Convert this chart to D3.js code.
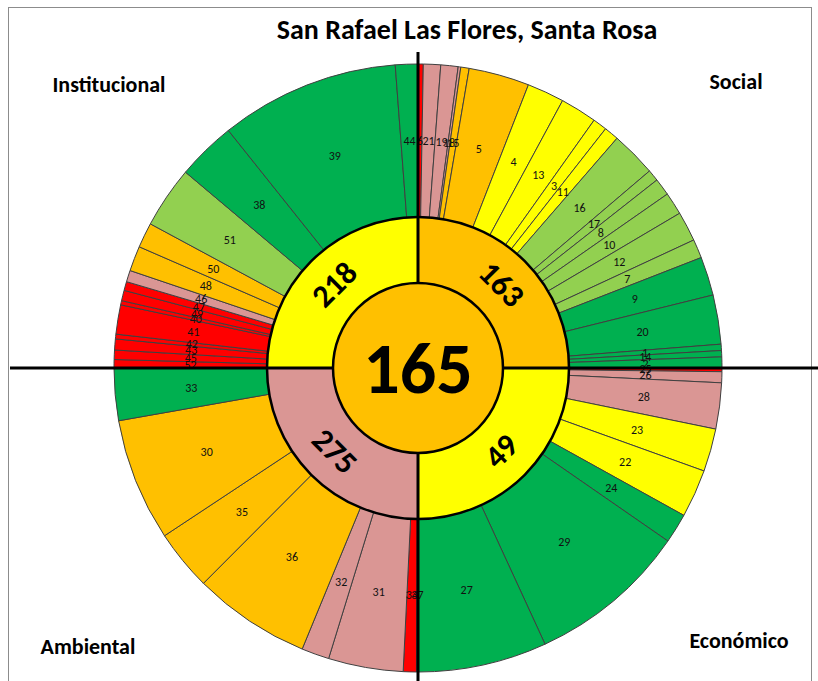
<!DOCTYPE html>
<html>
<head>
<meta charset="utf-8">
<script src="https://cdn.jsdelivr.net/npm/d3@7"></script>
<style>
  body { margin: 0; background: #fff; }
  svg { display: block; font-family: Carlito, Lato, "Liberation Sans", sans-serif; }
  .slice { stroke: #404040; stroke-width: 1; }
  .slice-label { font-size: 12px; fill: #111; text-anchor: middle; dominant-baseline: central; }
  .ring-label { font-size: 32px; font-weight: bold; text-anchor: middle; dominant-baseline: central; }
  .dim-title { font-size: 22px; font-weight: bold; text-anchor: middle; }
</style>
</head>
<body>
<div id="chart"></div>
<script>
/*
SUNBURST: PUNTAJE POR DIMENSION E INDICADOR
*/

const chartTitle = "San Rafael Las Flores, Santa Rosa";
const centerScore = 165;

// order is clockwise from 12 o'clock
const dimensions = ["Social", "Económico", "Ambiental", "Institucional"];
const dimensionScores = [163, 49, 275, 218];
const dimensionLevels = ["naranja", "amarillo", "rosa", "amarillo"];

// indicators per dimension: id, angular share (out of 90), level
const socialIds = ["6", "21", "19", "18", "15", "5", "4", "13", "3", "11", "16", "17", "8", "10", "12", "7", "9", "20", "1", "14", "2"];
const socialShares = [1.0, 3.3, 3.3, 0.5, 1.6, 11.6, 7.1, 7.0, 2.7, 2.8, 8.7, 2.2, 3.3, 4.3, 5.7, 3.6, 7.4, 9.4, 1.2, 1.2, 2.1];
const socialLevels = ["rojo", "rosa", "rosa", "rosa", "naranja", "naranja", "amarillo", "amarillo", "amarillo", "amarillo",
  "verdeClaro", "verdeClaro", "verdeClaro", "verdeClaro", "verdeClaro", "verdeClaro", "verde", "verde", "verde", "verde", "verde"];

const economicoIds = ["25", "26", "28", "23", "22", "24", "29", "27"];
const economicoShares = [0.7, 2.1, 8.8, 8.2, 9.2, 5.7, 30.6, 24.7];
const economicoLevels = ["rojo", "rosa", "rosa", "amarillo", "amarillo", "verde", "verde", "verde"];

const ambientalIds = ["37", "34", "31", "32", "36", "35", "30", "33"];
const ambientalShares = [0.3, 2.5, 14.3, 5.3, 22.5, 11.6, 23.5, 10.0];
const ambientalLevels = ["rojo", "rojo", "rosa", "rosa", "naranja", "naranja", "naranja", "verde"];

const institucionalIds = ["52", "45", "43", "42", "41", "40", "49", "47", "46", "48", "50", "51", "38", "39", "44"];
const institucionalShares = [1.6, 1.8, 2.1, 0.9, 5.6, 0.8, 2.0, 1.7, 2.2, 4.8, 4.8, 11.8, 11.3, 34.3, 4.3];
const institucionalLevels = ["rojo", "rojo", "rojo", "rojo", "rojo", "rojo", "rojo", "rojo", "rosa", "naranja", "naranja",
  "verdeClaro", "verde", "verde", "verde"];

const levelColors = {
  rojo: "#FF0000",
  rosa: "#DA9694",
  naranja: "#FFC000",
  amarillo: "#FFFF00",
  verdeClaro: "#92D050",
  verde: "#00B050",
};

function zipIndicators(ids, shares, levels) {
  return ids.map((id, i) => ({ id: id, share: shares[i], level: levels[i] }));
}

const indicatorsByDim = [
  zipIndicators(socialIds, socialShares, socialLevels),
  zipIndicators(economicoIds, economicoShares, economicoLevels),
  zipIndicators(ambientalIds, ambientalShares, ambientalLevels),
  zipIndicators(institucionalIds, institucionalShares, institucionalLevels),
];

const width = 818;
const height = 681;
const cx = 418;
const cy = 368;
const rCenter = 85;
const rRing = 151;
const rOuter = 304;

const svg = d3
  .select("#chart")
  .append("svg")
  .attr("width", width)
  .attr("height", height);

// chart area border
svg
  .append("rect")
  .attr("x", 8.5)
  .attr("y", 7.5)
  .attr("width", 803)
  .attr("height", 700)
  .attr("fill", "none")
  .attr("stroke", "#8c8c8c");

const g = svg.append("g").attr("transform", `translate(${cx},${cy})`);

// angle of each quadrant
const quadScale = d3.scaleLinear().domain([0, 4]).range([0, 2 * Math.PI]);

const outerArc = d3.arc().innerRadius(rRing).outerRadius(rOuter);

function addOuterSlices(group, data, q) {
  const pie = d3
    .pie()
    .sort(null)
    .value((d) => d.share)
    .startAngle(quadScale(q))
    .endAngle(quadScale(q + 1));
  const arcs = pie(data);

  group
    .selectAll(null)
    .data(arcs)
    .enter()
    .append("path")
    .attr("class", "slice")
    .attr("fill", (d) => levelColors[d.data.level])
    .attr("d", outerArc);

  return arcs;
}

const allArcs = [];
indicatorsByDim.forEach((data, q) => {
  addOuterSlices(g, data, q).forEach((a) => allArcs.push(a));
});

// labels after all slices so nothing covers them
g.selectAll(null)
  .data(allArcs)
  .enter()
  .append("text")
  .attr("class", "slice-label")
  .attr("transform", (d) => `translate(${outerArc.centroid(d)})`)
  .text((d) => d.data.id);

// inner ring, one sector per dimension
const ringArc = d3.arc().innerRadius(rCenter).outerRadius(rRing);
const ringData = dimensions.map((name, i) => ({
  name: name,
  score: dimensionScores[i],
  level: dimensionLevels[i],
  startAngle: quadScale(i),
  endAngle: quadScale(i + 1),
}));

g.selectAll(null)
  .data(ringData)
  .enter()
  .append("path")
  .attr("fill", (d) => levelColors[d.level])
  .attr("d", ringArc);

g.append("circle")
  .attr("r", rRing)
  .attr("fill", "none")
  .attr("stroke", "#000")
  .attr("stroke-width", 2.5);

// axis cross
svg
  .append("line")
  .attr("x1", 10)
  .attr("x2", width)
  .attr("y1", cy)
  .attr("y2", cy)
  .attr("stroke", "#000")
  .attr("stroke-width", 3);

svg
  .append("line")
  .attr("x1", cx)
  .attr("x2", cx)
  .attr("y1", 52)
  .attr("y2", height)
  .attr("stroke", "#000")
  .attr("stroke-width", 3);

const ringLayer = svg.append("g").attr("transform", `translate(${cx},${cy})`);

ringLayer
  .selectAll(null)
  .data(ringData)
  .enter()
  .append("text")
  .attr("class", "ring-label")
  .attr("transform", (d) => {
    const mid = (d.startAngle + d.endAngle) / 2;
    let rot = (mid * 180) / Math.PI;
    if (rot > 90 && rot <= 270) rot -= 180;
    if (rot > 270) rot -= 360;
    return `translate(${ringArc.centroid(d)}) rotate(${rot})`;
  })
  .text((d) => d.score);

// centre
ringLayer
  .append("circle")
  .attr("r", rCenter)
  .attr("fill", levelColors.naranja)
  .attr("stroke", "#000")
  .attr("stroke-width", 2.5);

ringLayer
  .append("text")
  .attr("text-anchor", "middle")
  .attr("dominant-baseline", "central")
  .attr("font-size", 72)
  .attr("font-weight", "bold")
  .text(centerScore);

// titles
svg
  .append("text")
  .attr("x", 467)
  .attr("y", 39)
  .attr("text-anchor", "middle")
  .attr("font-size", 28)
  .attr("font-weight", "bold")
  .text(chartTitle);

const dimTitlePos = [
  [736, 89],
  [739, 648],
  [88, 654],
  [109, 92],
];

svg
  .selectAll(null)
  .data(dimensions)
  .enter()
  .append("text")
  .attr("class", "dim-title")
  .attr("x", (d, i) => dimTitlePos[i][0])
  .attr("y", (d, i) => dimTitlePos[i][1])
  .text((d) => d);
</script>
</body>
</html>
